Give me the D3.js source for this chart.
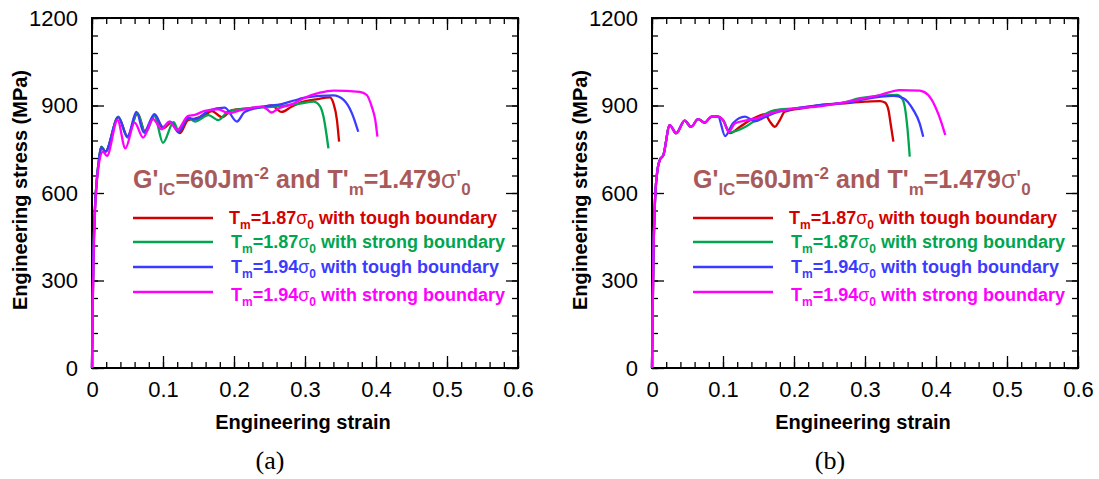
<!DOCTYPE html>
<html>
<head>
<meta charset="utf-8">
<script src="https://cdn.jsdelivr.net/npm/d3@7"></script>
<style>
  body { margin: 0; background: #fff; }
  svg { display: block; }
  .tick text { font-family: "Liberation Sans", Arial, sans-serif; }
</style>
</head>
<body>
<div id="chart"></div>
<script>
// stress-strain curves, [strain, stress MPa]
const aTough187 = [[0,0],[0.001,220],[0.002,380],[0.004,540],[0.007,650],[0.01,715],[0.013,758],[0.019,742],[0.037,860],[0.05,795],[0.064,873],[0.075,808],[0.088,866],[0.1,822],[0.112,842],[0.124,805],[0.135,850],[0.145,855],[0.158,866],[0.169,881],[0.183,860],[0.197,884],[0.22,890],[0.24,895],[0.253,900],[0.267,878],[0.281,896],[0.298,913],[0.318,922],[0.335,928],[0.34,908],[0.345,850],[0.348,776]];
const aStrong187 = [[0,0],[0.001,220],[0.002,380],[0.004,540],[0.007,650],[0.01,720],[0.013,759],[0.019,742],[0.037,862],[0.05,790],[0.064,875],[0.075,805],[0.088,864],[0.1,772],[0.115,843],[0.122,812],[0.135,858],[0.145,845],[0.164,867],[0.178,850],[0.192,880],[0.215,889],[0.262,897],[0.295,907],[0.312,913],[0.321,898],[0.326,862],[0.33,805],[0.333,753]];
const aTough194 = [[0,0],[0.001,220],[0.002,380],[0.004,540],[0.007,650],[0.01,718],[0.013,757],[0.019,742],[0.037,860],[0.05,793],[0.0625,878],[0.073,808],[0.088,870],[0.1,826],[0.11,845],[0.122,808],[0.135,858],[0.145,852],[0.164,882],[0.187,893],[0.204,845],[0.215,878],[0.239,895],[0.267,905],[0.286,918],[0.298,926],[0.32,933],[0.34,935],[0.354,920],[0.366,874],[0.375,810]];
const aStrong194 = [[0,0],[0.001,200],[0.002,350],[0.004,520],[0.0085,679],[0.0155,742],[0.021,727],[0.036,850],[0.047,753],[0.06,841],[0.072,790],[0.086,853],[0.098,818],[0.109,845],[0.12,816],[0.135,864],[0.145,868],[0.159,882],[0.178,887],[0.192,874],[0.211,885],[0.239,896],[0.246,888],[0.253,876],[0.262,889],[0.281,904],[0.298,925],[0.321,944],[0.34,951],[0.377,947],[0.387,936],[0.394,896],[0.399,850],[0.402,793]];

const bCommon = [[0,0],[0.001,200],[0.002,380],[0.004,560],[0.007,665],[0.011,713],[0.016,730],[0.025,833],[0.034,805],[0.046,848],[0.055,827],[0.065,853],[0.074,841],[0.084,862],[0.093,862]];
const bTough187 = bCommon.concat([[0.1,850],[0.11,805],[0.124,827],[0.143,856],[0.159,870],[0.166,845],[0.173,827],[0.18,850],[0.187,879],[0.215,892],[0.239,902],[0.267,907],[0.3,913],[0.321,915],[0.328,910],[0.333,885],[0.336,839],[0.34,776]]);
const bStrong187 = bCommon.concat([[0.1,850],[0.11,808],[0.131,826],[0.145,848],[0.173,884],[0.2,890],[0.239,900],[0.27,910],[0.293,925],[0.345,936],[0.352,925],[0.356,896],[0.36,816],[0.363,725]]);
const bTough194 = bCommon.concat([[0.103,795],[0.114,839],[0.131,862],[0.145,846],[0.159,860],[0.173,875],[0.192,885],[0.239,902],[0.28,912],[0.3,922],[0.34,933],[0.354,925],[0.368,885],[0.377,839],[0.382,793]]);
const bStrong194 = bCommon.concat([[0.1,850],[0.108,810],[0.117,839],[0.135,850],[0.147,856],[0.169,875],[0.192,887],[0.239,898],[0.3,925],[0.321,936],[0.349,953],[0.377,951],[0.389,936],[0.399,896],[0.408,839],[0.413,799]]);

const seriesColors = ["#d40000", "#00a550", "#3b3bff", "#ff00ff"];
const seriesTm = ["1.87", "1.87", "1.94", "1.94"];
const seriesBoundary = ["tough", "strong", "tough", "strong"];
const xTicks = [0, 0.1, 0.2, 0.3, 0.4, 0.5, 0.6];
const yTicks = [0, 300, 600, 900, 1200];
const panelLabels = ["(a)", "(b)"];

const W = 1099, H = 479;
const svg = d3.select("#chart").append("svg")
    .attr("width", W).attr("height", H);
svg.append("rect").attr("width", W).attr("height", H).attr("fill", "#fff");

const pw = 426, ph = 350;
const x = d3.scaleLinear().domain([0, 0.6]).range([0, pw]);
const y = d3.scaleLinear().domain([0, 1200]).range([ph, 0]);

const line = d3.line()
    .x(d => x(d[0]))
    .y(d => y(d[1]))
    .curve(d3.curveMonotoneX);

const panels = [
    { left: 92, data: [aTough187, aStrong187, aTough194, aStrong194] },
    { left: 652, data: [bTough187, bStrong187, bTough194, bStrong194] }
];

const sans = "Liberation Sans, Arial, sans-serif";

panels.forEach((p, i) => {
    const g = svg.append("g").attr("transform", `translate(${p.left},18)`);

    const minorX = d3.range(0, 0.6001, 0.02);
    const minorY = d3.range(0, 1201, 60);

    // minor ticks, all four sides, pointing in
    g.append("g").attr("transform", `translate(0,${ph})`)
        .call(d3.axisBottom(x).tickValues(minorX).tickSize(-6).tickFormat(""));
    g.append("g")
        .call(d3.axisTop(x).tickValues(minorX).tickSize(-6).tickFormat(""));
    g.append("g")
        .call(d3.axisLeft(y).tickValues(minorY).tickSize(-6).tickFormat(""));
    g.append("g").attr("transform", `translate(${pw},0)`)
        .call(d3.axisRight(y).tickValues(minorY).tickSize(-6).tickFormat(""));

    // major ticks
    g.append("g").attr("transform", `translate(0,${ph})`)
        .call(d3.axisBottom(x).tickValues(xTicks).tickSizeInner(-12).tickSizeOuter(0).tickPadding(10)
            .tickFormat(d => d === 0 ? "0" : d3.format(".1f")(d)))
        .call(a => a.selectAll("text").attr("font-size", 22).attr("dy", "0.85em"));
    g.append("g")
        .call(d3.axisTop(x).tickValues(xTicks).tickSize(-12).tickFormat(""));
    g.append("g")
        .call(d3.axisLeft(y).tickValues(yTicks).tickSizeInner(-12).tickSizeOuter(0).tickPadding(14)
            .tickFormat(d3.format("d")))
        .call(a => a.selectAll("text").attr("font-size", 22));
    g.append("g").attr("transform", `translate(${pw},0)`)
        .call(d3.axisRight(y).tickValues(yTicks).tickSize(-12).tickFormat(""));

    g.selectAll(".domain").remove();
    g.selectAll(".tick line").attr("stroke", "#000").attr("stroke-width", 1.3);

    // frame
    g.append("rect")
        .attr("width", pw).attr("height", ph)
        .attr("fill", "none").attr("stroke", "#000").attr("stroke-width", 2);

    // curves
    p.data.forEach((d, k) => {
        g.append("path")
            .datum(d)
            .attr("fill", "none")
            .attr("stroke", seriesColors[k])
            .attr("stroke-width", 2.3)
            .attr("d", line);
    });

    // axis titles
    g.append("text")
        .attr("x", pw / 2 - 2).attr("y", 411)
        .attr("text-anchor", "middle")
        .attr("font-family", sans)
        .attr("font-weight", "bold").attr("font-size", 20)
        .text("Engineering strain");
    g.append("text")
        .attr("transform", `translate(-65,${ph / 2 - 3}) rotate(-90)`)
        .attr("text-anchor", "middle")
        .attr("font-family", sans)
        .attr("font-weight", "bold").attr("font-size", 20)
        .text("Engineering stress (MPa)");

    // panel label
    svg.append("text")
        .attr("x", p.left + 178).attr("y", 469)
        .attr("text-anchor", "middle")
        .attr("font-family", "Liberation Serif, Times New Roman, serif")
        .attr("font-size", 26)
        .text(panelLabels[i]);

    // annotation
    const ann = g.append("text")
        .attr("x", 41).attr("y", 170)
        .attr("font-family", sans)
        .attr("font-weight", "bold").attr("font-size", 25)
        .attr("fill", "#a85a5a");
    ann.append("tspan").text("G'");
    ann.append("tspan").attr("font-size", 17).attr("dy", 7).text("IC");
    ann.append("tspan").attr("dy", -7).text("=60Jm");
    ann.append("tspan").attr("font-size", 17).attr("dy", -9).text("-2");
    ann.append("tspan").attr("dy", 9).text(" and T'");
    ann.append("tspan").attr("font-size", 17).attr("dy", 7).text("m");
    ann.append("tspan").attr("dy", -7).text("=1.479");
    ann.append("tspan").attr("font-weight", "normal").text("σ'");
    ann.append("tspan").attr("font-size", 17).attr("dy", 7).text("0");

    // legend
    const legY = [200, 224, 249, 274];
    seriesColors.forEach((c, k) => {
        g.append("line")
            .attr("x1", 41).attr("x2", 121)
            .attr("y1", legY[k]).attr("y2", legY[k])
            .attr("stroke", c).attr("stroke-width", 2.3);
        const t = g.append("text")
            .attr("x", k === 0 ? 137 : 139).attr("y", legY[k] + 6 + (k === 3 ? 3 : 0))
            .attr("font-family", sans)
            .attr("font-weight", "bold").attr("font-size", 18)
            .attr("fill", c);
        t.append("tspan").text("T");
        t.append("tspan").attr("font-size", 12).attr("dy", 5).text("m");
        t.append("tspan").attr("dy", -5).text("=" + seriesTm[k]);
        t.append("tspan").attr("font-weight", "normal").text("σ");
        t.append("tspan").attr("font-size", 12).attr("dy", 5).text("0");
        t.append("tspan").attr("dy", -5).text(" with " + seriesBoundary[k] + " boundary");
    });
});
</script>
</body>
</html>
